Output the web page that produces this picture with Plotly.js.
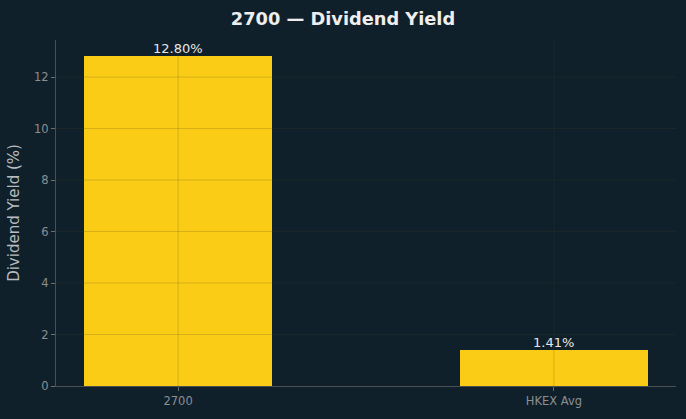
<!DOCTYPE html>
<html>
<head>
<meta charset="utf-8">
<script src="https://cdn.plot.ly/plotly-3.0.1.min.js"></script>
<style>html,body{margin:0;padding:0;background:#10202a;}</style>
</head>
<body>
<div id="chart" style="width:686px;height:419px;"></div>
<script>
const categories = ["2700", "HKEX Avg"];
const yields = [12.80, 1.41];
const labels = ["12.80%", "1.41%"];
const yTicks = [0, 2, 4, 6, 8, 10, 12];
const chartTitle = "2700 — Dividend Yield";
const yTitle = "Dividend Yield (%)";

const bg = "#10202a";
const gridCol = "rgba(70,66,40,0.2)";

const xIdx = categories.map((c, i) => i);

const trace = {
  type: "bar",
  x: xIdx,
  y: yields,
  width: 0.5,
  marker: {color: "#FACC15", line: {width: 0}},
  hoverinfo: "none"
};

const shapes = [];
yTicks.forEach(v => {
  if (v === 0) return;
  shapes.push({type: "line", xref: "paper", yref: "y", x0: 0, x1: 1, y0: v, y1: v,
    line: {color: gridCol, width: 1}, layer: "above"});
});
xIdx.forEach(v => {
  shapes.push({type: "line", xref: "x", yref: "paper", x0: v, x1: v, y0: 0, y1: 1,
    line: {color: gridCol, width: 1}, layer: "above"});
});

const annotations = xIdx.map((v, i) => ({
  x: v, y: yields[i], xref: "x", yref: "y", text: labels[i], showarrow: false,
  yanchor: "bottom", yshift: -2,
  font: {family: "DejaVu Sans", size: 13, color: "#e6e6e6"}
}));

const layout = {
  width: 686, height: 419,
  paper_bgcolor: bg, plot_bgcolor: bg,
  margin: {l: 56, r: 10, t: 40, b: 33},
  font: {family: "DejaVu Sans", color: "#8a8f93"},
  showlegend: false,
  title: {text: "<b>" + chartTitle + "</b>", x: 0.5, xanchor: "center", y: 0.955, yanchor: "middle",
          font: {family: "DejaVu Sans", size: 17.8, color: "#eeeeee"}},
  xaxis: {
    range: [-0.325, 1.325],
    tickvals: xIdx, ticktext: categories,
    showgrid: false,
    zeroline: false, showline: true, linecolor: "#4a4f52", linewidth: 1,
    ticks: "outside", ticklen: 4, tickcolor: "#6a6f72",
    tickfont: {size: 11.5, color: "#8a8f93"}
  },
  yaxis: {
    range: [0, 13.44],
    tickvals: yTicks,
    showgrid: false,
    zeroline: false, showline: true, linecolor: "#4a4f52", linewidth: 1,
    ticks: "outside", ticklen: 4, tickcolor: "#6a6f72",
    tickfont: {size: 11.5, color: "#8a8f93"},
    title: {text: yTitle, font: {size: 15, color: "#b8bcbf"}, standoff: 10}
  },
  shapes: shapes,
  annotations: annotations,
  bargap: 0
};

Plotly.newPlot("chart", [trace], layout, {staticPlot: true, displayModeBar: false});
</script>
</body>
</html>
